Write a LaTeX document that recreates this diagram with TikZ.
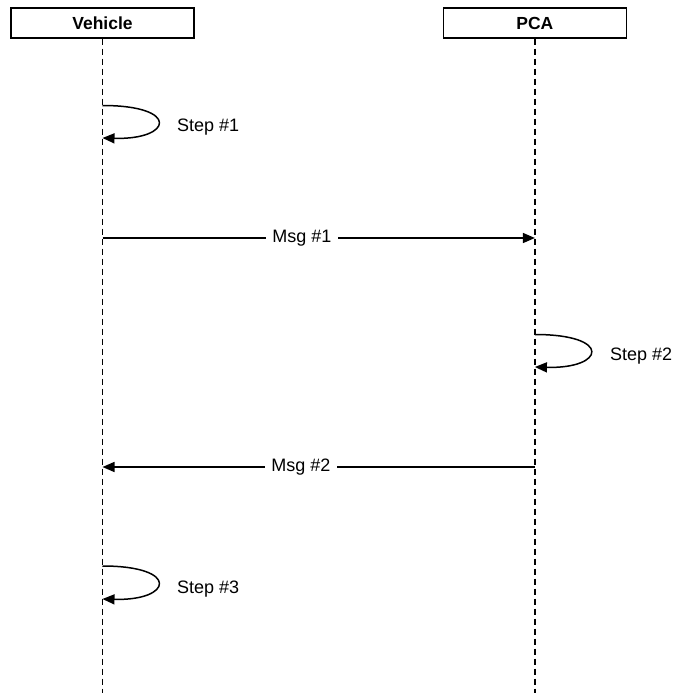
\documentclass[tikz,border=0pt]{standalone}
\usepackage{fontspec}
\setmainfont{Liberation Sans}
\usetikzlibrary{arrows.meta,positioning}

\tikzset{
  actor/.style={draw,line width=1.4pt,minimum width=183pt,minimum height=30pt,inner sep=0pt,font=\fontsize{17.5}{20}\selectfont\bfseries},
  lifeline/.style={line width=1.3pt,dash pattern=on 6pt off 4pt},
  msg/.style={line width=1.5pt,-{Triangle[length=12pt,width=10pt]}},
  msglabel/.style={fill=white,inner xsep=6pt,inner ysep=2pt,font=\fontsize{18}{20}\selectfont},
  steplabel/.style={anchor=west,inner sep=0pt,font=\fontsize{18}{20}\selectfont}
}

\begin{document}
\begin{tikzpicture}[x=1pt,y=-1pt]
  \useasboundingbox (0,0) rectangle (676,693);
  % participants
  \node[actor] (vehicle) at (102.5,23) {Vehicle};
  \node[actor,right=248pt of vehicle] (pca) {PCA};
  \coordinate (vehicleEnd) at (vehicle.south |- 0,693);
  \coordinate (pcaEnd) at (pca.south |- 0,693);
  \draw[lifeline] (vehicle) -- (vehicleEnd);
  \draw[lifeline] (pca) -- (pcaEnd);

  % points on the lifelines
  \coordinate (s1a) at (vehicle.south |- 0,105.5);
  \coordinate (s1b) at (vehicle.south |- 0,138);
  \coordinate (m1a) at (vehicle.south |- 0,238);
  \coordinate (m1b) at (pca.south |- 0,238);
  \coordinate (s2a) at (pca.south |- 0,334.5);
  \coordinate (s2b) at (pca.south |- 0,367);
  \coordinate (m2a) at (pca.south |- 0,467);
  \coordinate (m2b) at (vehicle.south |- 0,467);
  \coordinate (s3a) at (vehicle.south |- 0,566);
  \coordinate (s3b) at (vehicle.south |- 0,599);

  % Step #1
  \draw[msg] (s1a) .. controls +(78,0) and +(70,2) .. (s1b);
  \node[steplabel] (step1) at (177,127) {Step \#1};

  % Msg #1
  \draw[msg] (m1a) -- (m1b);
  \node[msglabel] (msg1) at (302,238) {Msg \#1};

  % Step #2
  \draw[msg] (s2a) .. controls +(78,0) and +(70,2) .. (s2b);
  \node[steplabel] (step2) at (610,356) {Step \#2};

  % Msg #2
  \draw[msg] (m2a) -- (m2b);
  \node[msglabel] (msg2) at (301,467) {Msg \#2};

  % Step #3
  \draw[msg] (s3a) .. controls +(78,0) and +(70,2) .. (s3b);
  \node[steplabel] (step3) at (177,589) {Step \#3};
\end{tikzpicture}
\end{document}
